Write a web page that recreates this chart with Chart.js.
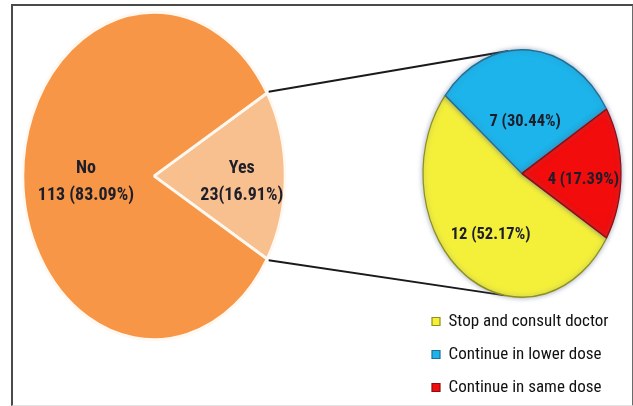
<!DOCTYPE html>
<html>
<head>
<meta charset="utf-8">
<script src="https://cdn.jsdelivr.net/npm/chart.js@4"></script>
<style>
  html, body { margin: 0; padding: 0; background: #fff; }
  body { width: 633px; height: 406px; position: relative; overflow: hidden; }
  #frame { position: absolute; left: 11px; top: 4px; width: 619px; height: 399px;
           border-left: 2px solid #4a4a4a; border-top: 2px solid #4a4a4a; border-right: 2px solid #6a6a6a;
           border-bottom: 1px solid #e2e2e2; box-sizing: content-box; }
  canvas { position: absolute; left: 0; top: 0; }
</style>
</head>
<body>
<div id="frame"></div>
<canvas id="leftPie" width="633" height="406"></canvas>
<canvas id="rightPie" width="633" height="406"></canvas>
<script>
// ---- data ----
const mainLabels = ['Yes', 'No'];
const mainValues = [23, 113];
const mainPercents = [16.91, 83.09];
const mainColors = ['#F9C08F', '#F79646'];

const subLabels = ['Stop and consult doctor', 'Continue in lower dose', 'Continue in same dose'];
const subValues = [12, 7, 4];
const subPercents = [52.17, 30.44, 17.39];
const subColors = ['#F4F03A', '#1CB4EA', '#F20C0C'];
const subBorders = ['#8f8f1a', '#1f6f95', '#8a1010'];

const ELLIPSE = 1.25;           // vertical stretch of both pies
const TEXT_FONT = "'Liberation Sans Narrow', 'Roboto Condensed', 'Roboto', sans-serif";

function sum(a) { return a.reduce((s, v) => s + v, 0); }

// stretch the pie vertically around its own centre
function ellipsePlugin(shadow) {
  return {
    id: 'ellipse',
    beforeDatasetsDraw(chart) {
      const arc = chart.getDatasetMeta(0).data[0];
      const ctx = chart.ctx;
      ctx.save();
      ctx.translate(arc.x, arc.y);
      ctx.scale(1, ELLIPSE);
      ctx.translate(-arc.x, -arc.y);
      if (shadow) {
        ctx.shadowColor = 'rgba(90,110,150,0.55)';
        ctx.shadowBlur = 5;
      }
    },
    afterDatasetsDraw(chart) { chart.ctx.restore(); }
  };
}

// labels inside slices, positioned from each arc's own geometry
function labelPlugin(texts, fractions, size) {
  return {
    id: 'sliceLabels',
    afterDatasetsDraw(chart) {
      const ctx = chart.ctx;
      ctx.save();
      ctx.font = 'bold ' + size + 'px ' + TEXT_FONT;
      ctx.fillStyle = '#1e1e2a';
      ctx.textAlign = 'center';
      ctx.textBaseline = 'middle';
      chart.getDatasetMeta(0).data.forEach((arc, i) => {
        const p = arc.getProps(['x', 'y', 'startAngle', 'endAngle', 'outerRadius'], true);
        const mid = (p.startAngle + p.endAngle) / 2;
        const r = p.outerRadius * fractions[i];
        const x = p.x + Math.cos(mid) * r;
        const y = p.y + Math.sin(mid) * r * ELLIPSE + 6;
        const lines = texts[i];
        const lh = 27;
        lines.forEach((t, k) => {
          ctx.fillText(t, x, y + (k - (lines.length - 1) / 2) * lh);
        });
      });
      ctx.restore();
    }
  };
}

const mainTexts = mainLabels.map((l, i) =>
  i === 0 ? [l, mainValues[i] + '(' + mainPercents[i].toFixed(2) + '%)']
          : [l, mainValues[i] + ' (' + mainPercents[i].toFixed(2) + '%)']);
const subTexts = subValues.map((v, i) => [v + ' (' + subPercents[i].toFixed(2) + '%)']);

const yesSweep = mainValues[0] / sum(mainValues) * 360;
const leftChart = new Chart(document.getElementById('leftPie'), {
  type: 'pie',
  data: {
    labels: mainLabels,
    datasets: [{
      data: mainValues,
      backgroundColor: mainColors,
      borderColor: '#fff8f0',
      borderWidth: 2.5,
      hoverOffset: 0,
      radius: 131
    }]
  },
  options: {
    responsive: false,
    animation: false,
    rotation: 90 - yesSweep / 2,
    layout: { padding: { left: 22, right: 347, top: 44, bottom: 98 } },
    plugins: { legend: { display: false }, tooltip: { enabled: false } }
  },
  plugins: [ellipsePlugin(false), labelPlugin(mainTexts, [0.67, 0.52], 18)]
});

// connector lines from the "Yes" slice to the breakdown pie
const connectorPlugin = {
  id: 'connectors',
  beforeDatasetsDraw(chart) {
    const yes = leftChart.getDatasetMeta(0).data[0].getProps(['x', 'y', 'startAngle', 'endAngle', 'outerRadius'], true);
    const sub = chart.getDatasetMeta(0).data[0].getProps(['x', 'y', 'outerRadius'], true);
    const ctx = chart.ctx;
    const ends = [[yes.startAngle, -98 * Math.PI / 180], [yes.endAngle, 100 * Math.PI / 180]];
    ctx.save();
    ctx.strokeStyle = '#1a1a1a';
    ctx.lineWidth = 2;
    ends.forEach(([a, b]) => {
      const r0 = yes.outerRadius + 2;
      ctx.beginPath();
      ctx.moveTo(yes.x + Math.cos(a) * r0, yes.y + Math.sin(a) * r0 * ELLIPSE);
      ctx.lineTo(sub.x + Math.cos(b) * sub.outerRadius, sub.y + Math.sin(b) * sub.outerRadius * ELLIPSE);
      ctx.stroke();
    });
    ctx.restore();
  }
};

const redSweep = subValues[2] / sum(subValues) * 360;
new Chart(document.getElementById('rightPie'), {
  type: 'pie',
  data: {
    labels: subLabels,
    datasets: [{
      data: subValues,
      backgroundColor: subColors,
      borderColor: subBorders,
      borderWidth: 1.2,
      hoverOffset: 0,
      radius: 99
    }]
  },
  options: {
    responsive: false,
    animation: false,
    rotation: 90 + redSweep / 2,
    layout: { padding: { left: 416, right: 5, top: 50, bottom: 0 } },
    plugins: {
      tooltip: { enabled: false },
      legend: {
        position: 'bottom',
        align: 'start',
        labels: {
          boxWidth: 8,
          boxHeight: 8,
          padding: 16,
          color: '#111',
          font: { family: TEXT_FONT, size: 17 }
        }
      }
    }
  },
  plugins: [connectorPlugin, ellipsePlugin(true), labelPlugin(subTexts, [0.55, 0.47, 0.62], 16.5)]
});
</script>
</body>
</html>
